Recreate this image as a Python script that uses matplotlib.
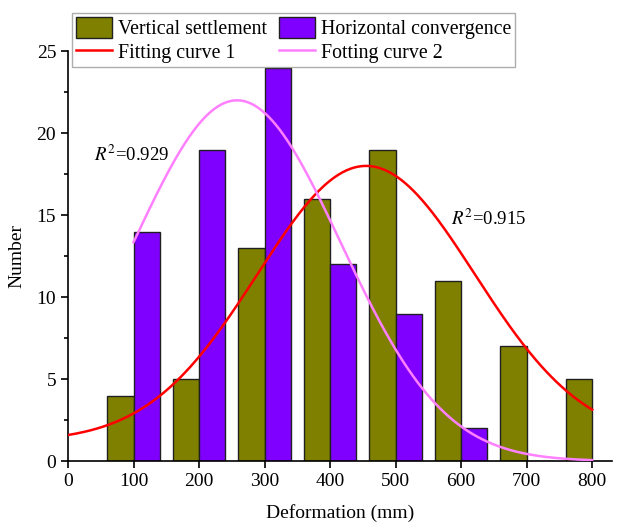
import numpy as np
import matplotlib
matplotlib.use("Agg")
import matplotlib.pyplot as plt
from matplotlib.ticker import MultipleLocator

plt.rcParams['font.family'] = ['Liberation Serif', 'DejaVu Serif']
plt.rcParams['mathtext.fontset'] = 'stix'

# histogram counts per deformation bin (mm)
bins = [100, 200, 300, 400, 500, 600, 700, 800]
vertical = [4, 5, 13, 16, 19, 11, 7, 5]
horizontal = [14, 19, 24, 12, 9, 2, 0, 0]

# Gaussian fit parameters: offset, height, centre, sigma
fit1 = dict(y0=1.2, height=16.8, xc=455.0, sigma=166.0)
fit2 = dict(y0=0.0, height=22.0, xc=258.0, sigma=158.0)
r2_1 = 0.915
r2_2 = 0.929


def gauss(x, p):
    return p['y0'] + p['height'] * np.exp(-(x - p['xc']) ** 2 / (2 * p['sigma'] ** 2))


fig = plt.figure(figsize=(6.18, 5.27), dpi=100)
ax = fig.add_axes([0.11, 0.125, 0.88, 0.778])

bw = 40
b1 = ax.bar(np.array(bins) - bw / 2, vertical, width=bw, color='#808000',
            edgecolor='#202020', linewidth=1.0, label='Vertical settlement', zorder=2)
b2 = ax.bar(np.array(bins[:7]) + bw / 2, horizontal[:7], width=bw, color='#8000FF',
            edgecolor='#202020', linewidth=1.0, label='Horizontal convergence', zorder=2)

x1 = np.linspace(0, 800, 400)
x2 = np.linspace(100, 800, 400)
l1, = ax.plot(x1, gauss(x1, fit1), color='#FF0000', lw=1.8, label='Fitting curve 1', zorder=3)
l2, = ax.plot(x2, gauss(x2, fit2), color='#FF80FF', lw=1.8, label='Fotting curve 2', zorder=3)

ax.text(40, 18.7, r'$R^2$' + f'={r2_2:.3f}', fontsize=13.5, ha='left', va='center')
ax.text(585, 14.8, r'$R^2$' + f'={r2_1:.3f}', fontsize=13.5, ha='left', va='center')

ax.set_xlim(0, 830)
ax.set_ylim(0, 25)
ax.set_xticks(range(0, 900, 100))
ax.yaxis.set_major_locator(MultipleLocator(5))
ax.yaxis.set_minor_locator(MultipleLocator(2.5))
ax.spines['top'].set_visible(False)
ax.spines['right'].set_visible(False)
for s in ('left', 'bottom'):
    ax.spines[s].set_linewidth(1.2)
ax.tick_params(axis='both', which='major', direction='out', length=5, width=1.2, labelsize=14)
ax.tick_params(axis='y', which='minor', direction='out', length=3, width=1.2)

ax.set_xlabel('Deformation (mm)', fontsize=14, labelpad=10)
ax.set_ylabel('Number', fontsize=14, labelpad=8)

leg = ax.legend(handles=[b1, l1, b2, l2], ncol=2, loc='upper left',
                bbox_to_anchor=(0.117, 0.976), bbox_transform=fig.transFigure,
                fontsize=14.3, frameon=True, fancybox=False, edgecolor='#999999',
                handlelength=1.8, handleheight=1.25, handletextpad=0.3,
                columnspacing=0.6, labelspacing=0.12, borderpad=0.2, borderaxespad=0)
leg.get_frame().set_linewidth(1.0)

fig.savefig('out.png', dpi=100)
